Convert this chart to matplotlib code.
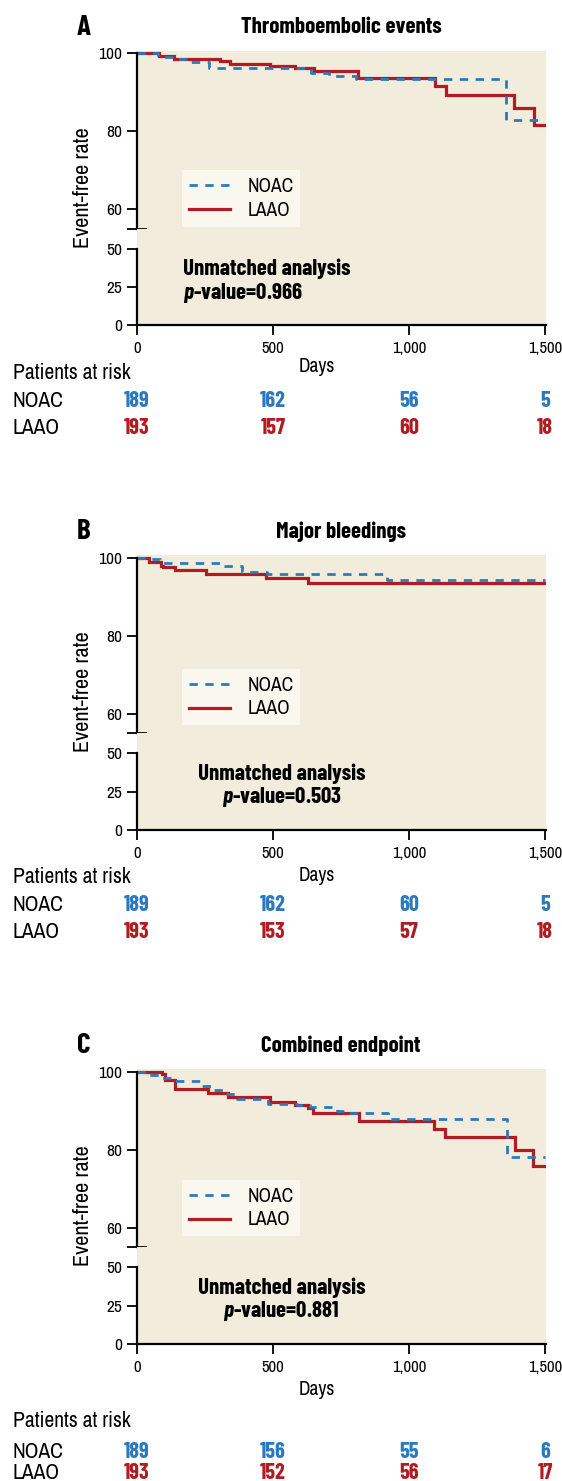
import matplotlib
matplotlib.use("Agg")
import matplotlib.pyplot as plt
from matplotlib.lines import Line2D
from matplotlib.transforms import blended_transform_factory

plt.rcParams["font.family"] = ["Archivo Narrow", "DejaVu Sans"]
plt.rcParams["mathtext.fontset"] = "custom"
plt.rcParams["mathtext.it"] = "Barlow Condensed:italic:bold"
plt.rcParams["mathtext.rm"] = "Barlow Condensed:bold"

BOLD = ["Barlow Condensed", "DejaVu Sans"]
BLUE = "#2a7abf"
RED = "#b01c22"
BG = "#f1ecdb"
W, H = 562, 1481

# ---- data ----
letters = ["A", "B", "C"]
titles = ["Thromboembolic events", "Major bleedings", "Combined endpoint"]
p_values = ["0.966", "0.503", "0.881"]
groups = ["NOAC", "LAAO"]
x_ticks = [0, 500, 1000, 1500]
x_tick_labels = ["0", "500", "1,000", "1,500"]

noac_a_days = [0, 80, 150, 200, 267, 640, 705, 805, 1357, 1500]
noac_a_rate = [100, 99.0, 98.5, 97.8, 96.3, 95.0, 94.1, 93.3, 82.8, 82.8]
laao_a_days = [0, 83, 138, 306, 343, 490, 582, 651, 814, 1096, 1135, 1385, 1460, 1500]
laao_a_rate = [100, 99.3, 98.5, 98.0, 97.2, 96.8, 96.1, 95.5, 93.6, 91.5, 89.3, 86.0, 81.5, 81.5]

noac_b_days = [0, 40, 86, 318, 388, 478, 918, 1500]
noac_b_rate = [100, 99.6, 98.7, 97.9, 96.3, 95.7, 94.2, 94.2]
laao_b_days = [0, 46, 88, 98, 141, 255, 475, 630, 1500]
laao_b_rate = [100, 98.8, 97.95, 97.5, 96.85, 95.8, 94.9, 93.4, 93.4]

noac_c_days = [0, 43, 88, 135, 239, 282, 324, 367, 484, 588, 637, 735, 776, 924, 1359, 1500]
noac_c_rate = [100, 99.15, 98.3, 97.6, 96.3, 95.3, 94.2, 93.0, 91.8, 91.4, 91.0, 89.9, 89.3, 87.8, 78.0, 78.0]
laao_c_days = [0, 92, 104, 141, 263, 337, 490, 582, 630, 649, 818, 1092, 1133, 1390, 1457, 1500]
laao_c_rate = [100, 99.3, 97.9, 95.5, 94.6, 93.5, 92.3, 91.5, 90.6, 89.3, 87.3, 85.2, 83.2, 80.0, 75.7, 75.7]

at_risk_noac = [[189, 162, 56, 5], [189, 162, 60, 5], [189, 156, 55, 6]]
at_risk_laao = [[193, 157, 60, 18], [193, 153, 57, 18], [193, 152, 56, 17]]

curves = [
    (noac_a_days, noac_a_rate, laao_a_days, laao_a_rate),
    (noac_b_days, noac_b_rate, laao_b_days, laao_b_rate),
    (noac_c_days, noac_c_rate, laao_c_days, laao_c_rate),
]

# ---- layout (pixels) ----
panel_top = [53.3, 557.7, 1071.7]      # pixel row of the 100 tick
legend_top = [117, 111, 108]
table_rows = [[320, 348, 375], [319, 347, 374], [349, 380, 401]]
days_row = [313, 318, 318]
ax_left, ax_width = 136.7, 409
x_max = 1502

fig = plt.figure(figsize=(W / 100, H / 100), dpi=100)


def add_px_axes(top, height):
    return fig.add_axes([ax_left / W, 1 - (top + height) / H, ax_width / W, height / H])


def fy(py):
    return 1 - py / H


for i in range(3):
    T = panel_top[i]
    nd, nr, ld, lr = curves[i]

    up = add_px_axes(T - 2.4, 177.9)
    lo = add_px_axes(T + 175.5, 96.5)
    for ax in (up, lo):
        ax.set_facecolor(BG)
        ax.set_xlim(0, x_max)
        for s in ("top", "right"):
            ax.spines[s].set_visible(False)
        ax.spines["left"].set_linewidth(1.6)
        ax.tick_params(axis="y", direction="out", length=7, width=1.3,
                       labelsize=12.5, pad=3.5)
    up.set_ylim(55, 100.6)
    up.spines["left"].set_bounds(55, 100)
    up.spines["bottom"].set_visible(False)
    up.set_yticks([60, 80, 100])
    up.set_yticks([55], minor=True)
    up.tick_params(axis="y", which="minor", direction="inout", length=15, width=1.3)
    up.set_xticks([])

    lo.set_ylim(0, 63.3)
    lo.spines["left"].set_bounds(0, 50)
    lo.spines["bottom"].set_linewidth(1.6)
    lo.set_yticks([0, 25, 50])
    lo.set_yticks([50], minor=True)
    lo.tick_params(axis="y", which="minor", direction="inout", length=15, width=1.3)
    lo.set_xticks(x_ticks)
    lo.set_xticklabels(x_tick_labels)
    lo.tick_params(axis="x", direction="out", length=7, width=1.3, labelsize=12, pad=4.5)

    up.step(ld, lr, where="post", color=RED, lw=2.3, solid_joinstyle="miter")
    up.step(nd, nr, where="post", color=BLUE, lw=2.0, linestyle=(0, (3.0, 2.7)))

    handles = [Line2D([], [], color=BLUE, lw=2.0, linestyle=(0, (3.0, 2.7))),
               Line2D([], [], color=RED, lw=2.3)]
    up.legend(handles, groups, loc="upper left",
              bbox_to_anchor=((182 - ax_left) / ax_width, (175.5 - legend_top[i]) / 177.9),
              frameon=True, fancybox=False, facecolor="#faf7ee", edgecolor="none",
              framealpha=1, fontsize=14, handlelength=2.1, handletextpad=0.9,
              borderpad=0.35, labelspacing=0.25, borderaxespad=0)

    if i == 0:
        tx, ha = 170, "left"
    else:
        tx, ha = 532, "center"
    lo.text(tx, 37, "Unmatched analysis", ha=ha, va="center",
            family=BOLD, weight="bold", fontsize=16.5)
    lo.text(tx, 21.5, "$p$-value=" + p_values[i], ha=ha, va="center",
            family=BOLD, weight="bold", fontsize=16.5)

    fig.text(84 / W, fy(T - 26), letters[i], ha="center", va="center",
             family=BOLD, weight="bold", fontsize=21)
    fig.text((ax_left + 1500 * ax_width / x_max / 2) / W, fy(T - 26), titles[i],
             ha="center", va="center", family=BOLD, weight="bold", fontsize=16.5)
    fig.text(83 / W, fy(T + 134), "Event-free rate", rotation=90,
             ha="center", va="center", fontsize=16)
    fig.text(317 / W, fy(T + days_row[i]), "Days", ha="center", va="center", fontsize=14)

    r0, r1, r2 = table_rows[i]
    fig.text(13 / W, fy(T + r0), "Patients at risk", ha="left", va="center", fontsize=15.5)
    fig.text(13 / W, fy(T + r1), groups[0], ha="left", va="center", fontsize=15.5)
    fig.text(13 / W, fy(T + r2), groups[1], ha="left", va="center", fontsize=15.5)
    tr = blended_transform_factory(lo.transData, fig.transFigure)
    for xv, n1, n2 in zip(x_ticks, at_risk_noac[i], at_risk_laao[i]):
        lo.text(xv, fy(T + r1), str(n1), transform=tr, ha="center", va="center",
                color=BLUE, family=BOLD, weight="bold", fontsize=16, clip_on=False)
        lo.text(xv, fy(T + r2), str(n2), transform=tr, ha="center", va="center",
                color=RED, family=BOLD, weight="bold", fontsize=16, clip_on=False)

fig.savefig("out.png", dpi=100)
